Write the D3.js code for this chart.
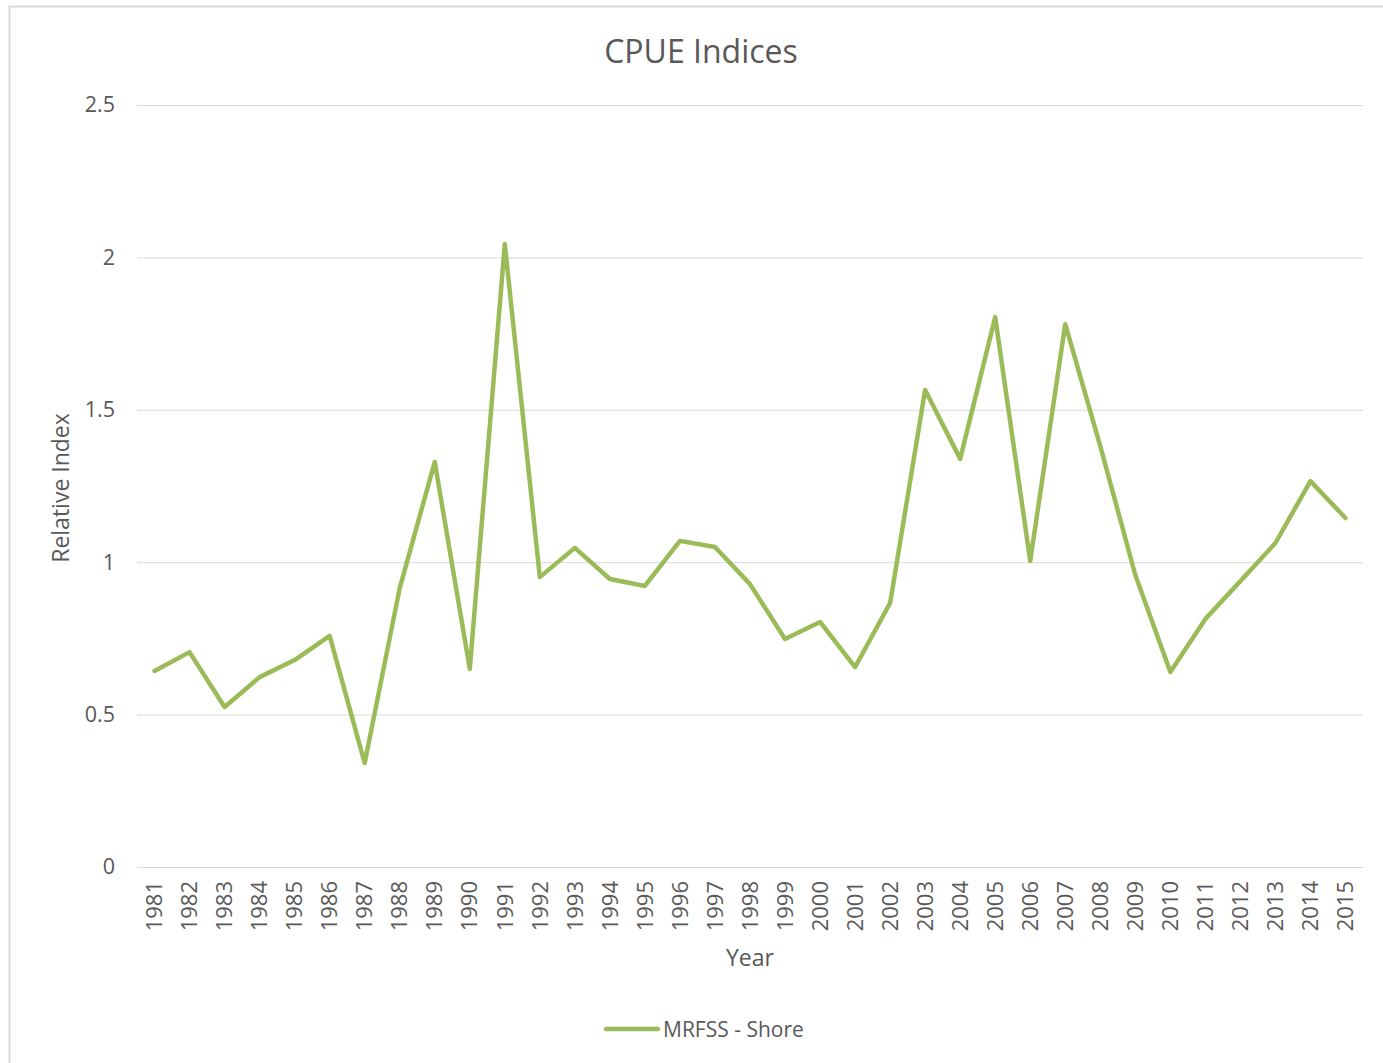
<!DOCTYPE html>
<html><head><meta charset="utf-8">
<script src="https://cdn.jsdelivr.net/npm/d3@7"></script>
<style>
html,body{margin:0;padding:0;background:#fff;}
svg{display:block;}
text{font-family:"Open Sans",sans-serif;fill:#595959;}
</style></head>
<body>
<svg id="chart" width="1383" height="1063"></svg>
<script>
const years = ["1981","1982","1983","1984","1985","1986","1987","1988","1989","1990","1991","1992","1993","1994","1995","1996","1997","1998","1999","2000","2001","2002","2003","2004","2005","2006","2007","2008","2009","2010","2011","2012","2013","2014","2015"];
const mrfssShore = [0.643,0.705,0.525,0.623,0.679,0.758,0.341,0.915,1.329,0.650,2.044,0.951,1.047,0.945,0.922,1.070,1.050,0.928,0.748,0.804,0.656,0.866,1.565,1.339,1.804,1.004,1.781,1.381,0.958,0.640,0.814,0.938,1.063,1.266,1.145];
const yTicks = [0,0.5,1,1.5,2,2.5];
const seriesName = "MRFSS - Shore";
const title = "CPUE Indices";

const svg = d3.select("#chart");
const W = 1383, H = 1063;
const m = {left:137, right:1363, top:105, bottom:867};

// outer chart border
svg.append("rect").attr("x",9.5).attr("y",6.5).attr("width",W+20).attr("height",H+20)
  .attr("fill","none").attr("stroke","#d9d9d9").attr("stroke-width",2);

const x = d3.scaleBand().domain(years).range([m.left,m.right]);
const y = d3.scaleLinear().domain([0,2.5]).range([m.bottom,m.top]);

// gridlines
const yAxis = d3.axisLeft(y).tickValues(yTicks).tickSize(-(m.right-m.left)).tickPadding(22)
  .tickFormat(d=>d3.format("")(d));
const gy = svg.append("g").attr("transform",`translate(${m.left},0)`).call(yAxis);
gy.select(".domain").remove();
gy.selectAll(".tick line").attr("stroke","#d9d9d9").attr("stroke-width",1);
gy.selectAll(".tick text").attr("font-size",21.5).style("fill","#595959");

// x axis
const xAxis = d3.axisBottom(x).tickSize(0).tickPadding(0);
const gx = svg.append("g").attr("transform",`translate(0,${m.bottom})`).call(xAxis);
gx.select(".domain").remove();
gx.selectAll(".tick text")
  .attr("font-size",22).style("fill","#595959")
  .attr("transform","rotate(-90)")
  .attr("text-anchor","end").attr("x",-14).attr("y",0).attr("dy","0.35em");

// line
const line = d3.line().x((d,i)=>x(years[i])+x.bandwidth()/2).y(d=>y(d));
svg.append("path").datum(mrfssShore).attr("d",line)
  .attr("fill","none").attr("stroke","#9bbb59").attr("stroke-width",4.5)
  .attr("stroke-linejoin","round").attr("stroke-linecap","round");

// title
svg.append("text").attr("x",701).attr("y",63).attr("text-anchor","middle")
  .attr("font-size",32).text(title);

// axis titles
svg.append("text").attr("x",750).attr("y",966).attr("text-anchor","middle")
  .attr("font-size",23).text("Year");
svg.append("text").attr("transform","translate(69,488) rotate(-90)").attr("text-anchor","middle")
  .attr("font-size",23).text("Relative Index");

// legend
svg.append("line").attr("x1",606).attr("x2",658).attr("y1",1029).attr("y2",1029)
  .attr("stroke","#9bbb59").attr("stroke-width",4.5).attr("stroke-linecap","round");
svg.append("text").attr("x",663).attr("y",1037).attr("font-size",21).text(seriesName);
</script>
</body></html>
